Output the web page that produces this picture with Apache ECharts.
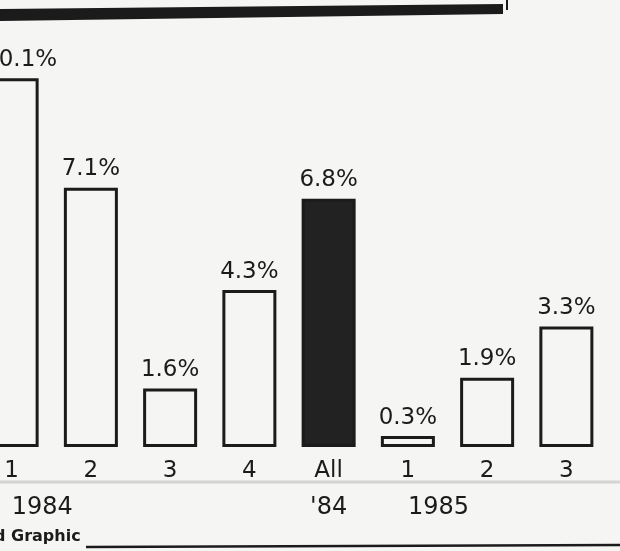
<!DOCTYPE html>
<html>
<head>
<meta charset="utf-8">
<script src="https://cdn.jsdelivr.net/npm/echarts@6/dist/echarts.min.js"></script>
<style>
  html, body { margin: 0; padding: 0; background: #f5f5f3; }
  #chart { width: 620px; height: 551px; }
</style>
</head>
<body>
<div id="chart"></div>
<script>
// Quarterly change, 1984 quarters, the full-year figure, then 1985 quarters
const quarters = ['1', '2', '3', '4', 'All', '1', '2', '3'];
const yearLabels = ['1984', '', '', '', "'84", '1985', '', ''];
const changes = [10.1, 7.1, 1.6, 4.3, 6.8, 0.3, 1.9, 3.3];
const annualIndex = 4;

const ink = '#1b1b1b';
const paper = '#f5f5f3';
const font = 'DejaVu Sans';

const chart = echarts.init(document.getElementById('chart'), null, { renderer: 'canvas' });

const barData = changes.map((v, i) => {
  const item = { value: v };
  if (i === annualIndex) item.itemStyle = { color: '#222222' };
  if (i === 0) item.label = { offset: [9, 0] };
  return item;
});

const yearData = yearLabels.map((t, i) => ({
  value: t,
  textStyle: { align: i === annualIndex ? 'center' : 'left' }
}));

chart.setOption({
  backgroundColor: paper,
  animation: false,
  grid: {
    left: -28, right: 14, top: 9, bottom: 104,
    containLabel: false,
    outerBoundsMode: 'none'
  },
  xAxis: [
    {
      type: 'category',
      data: quarters,
      axisLine: { show: false },
      axisTick: { show: false },
      axisLabel: { interval: 0, color: ink, fontFamily: font, fontSize: 23, margin: 13 }
    },
    {
      type: 'category',
      data: yearData,
      position: 'bottom',
      axisLine: { show: false },
      axisTick: { show: false },
      axisLabel: { interval: 0, hideOverlap: false, color: ink, fontFamily: font, fontSize: 24, margin: 49 }
    }
  ],
  yAxis: {
    type: 'value',
    min: 0,
    max: 12,
    show: false,
    splitLine: { show: false }
  },
  series: [{
    type: 'bar',
    xAxisIndex: 0,
    data: barData,
    barWidth: 54,
    itemStyle: { color: paper, borderColor: ink, borderWidth: 3 },
    label: {
      show: true,
      position: 'top',
      distance: 7,
      color: ink,
      fontFamily: font,
      fontSize: 23,
      formatter: p => p.value + '%'
    }
  }],
  graphic: [
    // header box shadow band
    {
      type: 'polygon',
      shape: { points: [[0, 9], [503, 4], [503, 14], [0, 21]] },
      style: { fill: ink }
    },
    // header box right edge
    {
      type: 'line',
      shape: { x1: 507, y1: 0, x2: 507, y2: 10 },
      style: { stroke: ink, lineWidth: 2 }
    },
    // rule under the quarter labels
    {
      type: 'line',
      shape: { x1: 0, y1: 482, x2: 620, y2: 482 },
      style: { stroke: '#d4d4d2', lineWidth: 3 }
    },
    // bottom border
    {
      type: 'line',
      shape: { x1: 86, y1: 547, x2: 620, y2: 545 },
      style: { stroke: ink, lineWidth: 2.5 }
    },
    // credit line
    {
      type: 'text',
      style: {
        text: 'd Graphic',
        x: -6,
        y: 545,
        fill: ink,
        font: 'bold 16px "DejaVu Sans"',
        textVerticalAlign: 'bottom'
      }
    }
  ]
});
</script>
</body>
</html>
